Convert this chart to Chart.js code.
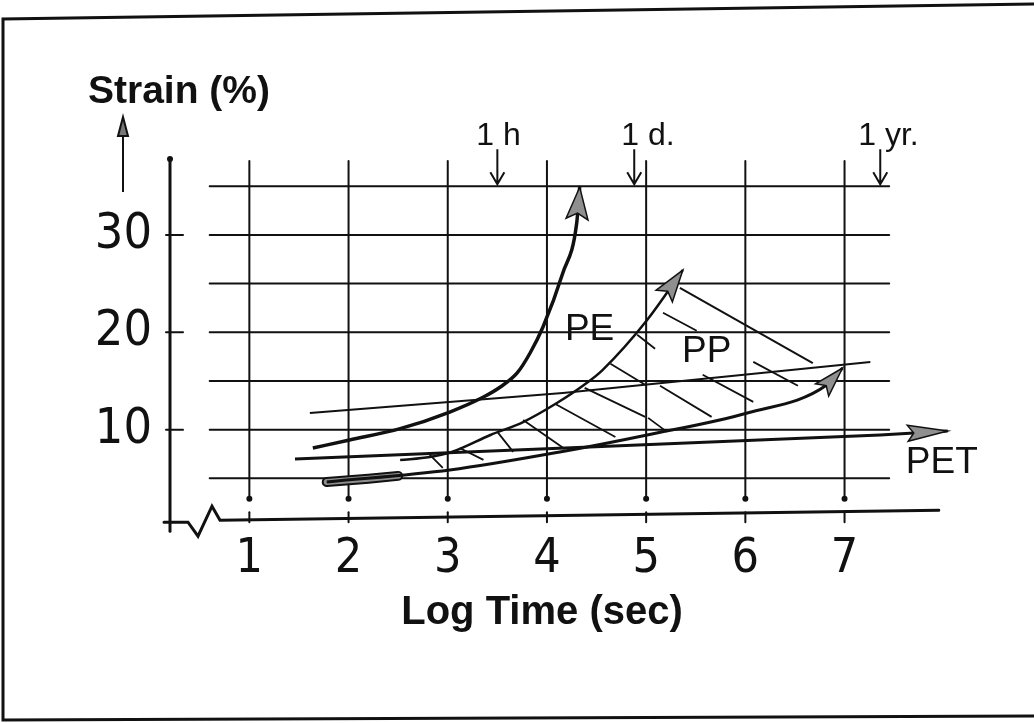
<!DOCTYPE html>
<html>
<head>
<meta charset="utf-8">
<title>Creep strain vs log time</title>
<script src="https://cdn.jsdelivr.net/npm/chart.js@4.4.1/dist/chart.umd.min.js"></script>
<style>
  html, body { margin: 0; padding: 0; background: #fff; }
  #wrap { width: 1034px; height: 723px; }
</style>
</head>
<body>
<div id="wrap"><canvas id="creepChart" width="1034" height="723"></canvas></div>
<script>
// axis ticks and grid
var xTicks = [1, 2, 3, 4, 5, 6, 7];
var yTicks = [10, 20, 30];
var yGrid = [5, 10, 15, 20, 25, 30, 35];

// PE curve (last point = arrow tip)
var peX = [1.64, 2.01, 2.52, 3.02, 3.36, 3.53, 3.70, 3.83, 3.96, 4.16, 4.30, 4.33];
var peY = [8.11, 8.94, 10.1, 11.81, 13.35, 14.38, 15.82, 17.87, 20.54, 26.09, 31.22, 34.9];

// PP upper bound
var ppUpX = [2.52, 2.82, 3.04, 3.43, 3.76, 4.10, 4.40, 4.56, 5.01, 5.37];
var ppUpY = [6.88, 7.19, 7.70, 9.45, 10.78, 12.73, 14.79, 16.12, 21.26, 26.39];

// PP lower bound
var ppLowX = [1.78, 3.02, 4.13, 5.01, 6.02, 6.82, 6.98];
var ppLowY = [4.62, 5.85, 7.70, 9.45, 11.71, 14.58, 16.33];

// PP shaded start
var tailX = [1.78, 2.2, 2.5];
var tailY = [4.62, 4.95, 5.25];

// PP other lines
var ppMidX = [1.61, 4.16, 7.26];
var ppMidY = [11.71, 13.76, 16.95];
var ppTopX = [5.34, 6.68];
var ppTopY = [24.55, 16.84];

// PET
var petX = [1.46, 4.43, 7.36, 8.04];
var petY = [6.98, 8.22, 9.45, 9.86];

// hatching strokes (start -> end)
var hatchX1 = [2.80, 3.12, 3.50, 3.76, 4.08, 4.38, 4.64, 4.91, 5.17, 5.14, 5.57, 6.08, 5.02];
var hatchY1 = [7.61, 8.12, 9.77, 11.00, 12.65, 14.29, 16.76, 19.74, 22.00, 14.50, 15.63, 16.96, 11.21];
var hatchX2 = [2.95, 3.36, 3.66, 4.18, 4.69, 4.99, 4.99, 5.09, 5.51, 5.66, 6.08, 6.53, 5.21];
var hatchY2 = [6.07, 6.89, 7.71, 8.02, 9.25, 11.31, 14.60, 18.30, 20.15, 11.31, 12.85, 14.50, 9.77];

// time marks on top
var markX = [3.5, 4.88, 7.36];
var markText = ['1 h', '1 d.', '1 yr.'];

// curve names
var nameText = ['PE', 'PP', 'PET'];
var nameX = [4.43, 5.61, 7.98];
var nameY = [20.27, 18.0, 6.58];

var axisY = 0.9;

var SANS = '"Liberation Sans", Arial, Helvetica, sans-serif';
var NARROW = '"Liberation Sans Narrow", "DejaVu Sans Condensed", sans-serif';
var INK = '#111';

function pts(xs, ys) {
  var out = [];
  for (var i = 0; i < xs.length; i++) out.push({ x: xs[i], y: ys[i] });
  return out;
}

var hatchData = [];
for (var i = 0; i < hatchX1.length; i++) {
  hatchData.push({ x: hatchX1[i], y: hatchY1[i] });
  hatchData.push({ x: hatchX2[i], y: hatchY2[i] });
  hatchData.push({ x: hatchX2[i], y: null });
}

function lineSet(label, data, width, extra) {
  var ds = {
    label: label, data: data, borderColor: INK, borderWidth: width,
    pointRadius: 0, fill: false, tension: 0, spanGaps: false
  };
  for (var k in extra) ds[k] = extra[k];
  return ds;
}

var sketch = {
  id: 'sketch',
  beforeDatasetsDraw: function(chart) {
    var ctx = chart.ctx, xs = chart.scales.x, ys = chart.scales.y;
    var left = chart.chartArea.left;
    ctx.save();
    ctx.strokeStyle = INK;
    ctx.fillStyle = INK;
    ctx.lineCap = 'round';
    ctx.lineWidth = 2;
    yGrid.forEach(function(v) {
      var py = ys.getPixelForValue(v);
      ctx.beginPath();
      ctx.moveTo(xs.getPixelForValue(0.6), py);
      ctx.lineTo(xs.getPixelForValue(7.45), py);
      ctx.stroke();
    });
    var ay = ys.getPixelForValue(axisY);
    xTicks.forEach(function(v) {
      var px = xs.getPixelForValue(v);
      var bot = ys.getPixelForValue(2.9);
      ctx.beginPath();
      ctx.moveTo(px, ys.getPixelForValue(37.6));
      ctx.lineTo(px, bot);
      ctx.stroke();
      ctx.beginPath();
      ctx.arc(px, bot, 3, 0, Math.PI * 2);
      ctx.fill();
      ctx.beginPath();
      ctx.moveTo(px, ay - 6);
      ctx.lineTo(px, ay + 4);
      ctx.stroke();
    });
    // y axis
    ctx.lineWidth = 3;
    ctx.beginPath();
    ctx.moveTo(left, ys.getPixelForValue(37.8));
    ctx.lineTo(left, ay + 13);
    ctx.stroke();
    ctx.beginPath();
    ctx.arc(left, ys.getPixelForValue(37.8), 3, 0, Math.PI * 2);
    ctx.fill();
    ctx.lineWidth = 2;
    yTicks.forEach(function(v) {
      var py = ys.getPixelForValue(v);
      ctx.beginPath();
      ctx.moveTo(left - 4, py);
      ctx.lineTo(left + 13, py);
      ctx.stroke();
    });
    // x axis with break
    ctx.lineWidth = 3;
    ctx.beginPath();
    ctx.moveTo(left - 6, ay + 4);
    ctx.lineTo(left + 18, ay + 4);
    ctx.lineTo(left + 28, ay + 18);
    ctx.lineTo(left + 42, ay - 12);
    ctx.lineTo(left + 50, ay + 2);
    ctx.lineTo(xs.getPixelForValue(7.95), ay - 8);
    ctx.stroke();
    ctx.restore();
  },
  afterDatasetsDraw: function(chart) {
    var ctx = chart.ctx;
    ctx.save();
    chart.data.datasets.forEach(function(ds, i) {
      if (!ds.arrowLen) return;
      var el = chart.getDatasetMeta(i).data;
      var tip = el[el.length - 1], prev = el[el.length - 2];
      var fx = (tip.cp1x !== undefined && !isNaN(tip.cp1x)) ? tip.cp1x : prev.x;
      var fy = (tip.cp1y !== undefined && !isNaN(tip.cp1y)) ? tip.cp1y : prev.y;
      var dx = tip.x - fx, dy = tip.y - fy, d = Math.sqrt(dx * dx + dy * dy) || 1;
      dx /= d; dy /= d;
      var bx = tip.x - dx * ds.arrowLen, by = tip.y - dy * ds.arrowLen;
      var nx = -dy * ds.arrowHalf, ny = dx * ds.arrowHalf;
      ctx.beginPath();
      ctx.moveTo(tip.x, tip.y);
      ctx.lineTo(bx + nx, by + ny);
      ctx.lineTo(bx + dx * 6, by + dy * 6);
      ctx.lineTo(bx - nx, by - ny);
      ctx.closePath();
      ctx.fillStyle = '#8f8f8f';
      ctx.fill();
      ctx.strokeStyle = INK;
      ctx.lineWidth = 1.5;
      ctx.stroke();
    });
    ctx.restore();
  },
  afterDraw: function(chart) {
    var ctx = chart.ctx, xs = chart.scales.x, ys = chart.scales.y;
    var left = chart.chartArea.left;
    ctx.save();
    ctx.fillStyle = INK;
    ctx.strokeStyle = INK;
    // curve names
    ctx.font = '37px ' + SANS;
    ctx.textAlign = 'center';
    ctx.textBaseline = 'middle';
    for (var i = 0; i < nameText.length; i++) {
      ctx.fillText(nameText[i], xs.getPixelForValue(nameX[i]), ys.getPixelForValue(nameY[i]));
    }
    // time marks
    ctx.font = '32px ' + SANS;
    ctx.textAlign = 'left';
    ctx.textBaseline = 'alphabetic';
    var offs = [-21, -13, -22];
    for (var j = 0; j < markX.length; j++) {
      var px = xs.getPixelForValue(markX[j]);
      var top = ys.getPixelForValue(38.8), bot = ys.getPixelForValue(35.2);
      ctx.fillText(markText[j], px + offs[j], top - 4);
      ctx.lineWidth = 2;
      ctx.beginPath();
      ctx.moveTo(px, top);
      ctx.lineTo(px, bot);
      ctx.moveTo(px - 7, bot - 12);
      ctx.lineTo(px, bot);
      ctx.lineTo(px + 7, bot - 12);
      ctx.stroke();
    }
    // axis titles
    ctx.font = 'bold 39px ' + SANS;
    ctx.fillText('Strain (%)', left - 82, 103);
    ctx.font = 'bold 40px ' + SANS;
    ctx.textAlign = 'center';
    ctx.textBaseline = 'middle';
    ctx.fillText('Log Time (sec)', left + 372, 613);
    // arrow under y title
    var ax = left - 47;
    ctx.lineWidth = 2;
    ctx.beginPath();
    ctx.moveTo(ax, 192);
    ctx.lineTo(ax, 130);
    ctx.stroke();
    ctx.beginPath();
    ctx.moveTo(ax, 117);
    ctx.lineTo(ax - 5, 136);
    ctx.lineTo(ax + 5, 136);
    ctx.closePath();
    ctx.fillStyle = '#777';
    ctx.fill();
    ctx.stroke();
    // frame
    ctx.lineWidth = 3;
    ctx.beginPath();
    ctx.moveTo(1034, 4);
    ctx.lineTo(3, 19);
    ctx.lineTo(3, 720);
    ctx.lineTo(1034, 716);
    ctx.stroke();
    ctx.restore();
  }
};

new Chart(document.getElementById('creepChart').getContext('2d'), {
  type: 'line',
  data: {
    datasets: [
      lineSet('PE', pts(peX, peY), 3.5, { cubicInterpolationMode: 'monotone', arrowLen: 32, arrowHalf: 11 }),
      lineSet('PP upper', pts(ppUpX, ppUpY), 2.5, { cubicInterpolationMode: 'monotone', arrowLen: 32, arrowHalf: 10 }),
      lineSet('PP lower', pts(ppLowX, ppLowY), 3, { cubicInterpolationMode: 'monotone', arrowLen: 30, arrowHalf: 9 }),
      lineSet('PET', pts(petX, petY), 3, { arrowLen: 40, arrowHalf: 8 }),
      lineSet('PP mid', pts(ppMidX, ppMidY), 2, {}),
      lineSet('PP top', pts(ppTopX, ppTopY), 2, {}),
      lineSet('hatch', hatchData, 1.8, {}),
      lineSet('PP tail', pts(tailX, tailY), 6, { borderColor: '#8f8f8f', borderCapStyle: 'round' }),
      lineSet('PP tail edge', pts(tailX, tailY), 10, { borderCapStyle: 'round' })
    ]
  },
  options: {
    responsive: false,
    animation: false,
    devicePixelRatio: 1,
    events: [],
    layout: { autoPadding: false, padding: { left: 0, right: 60.5, top: 157, bottom: 0 } },
    plugins: { legend: { display: false }, tooltip: { enabled: false } },
    scales: {
      x: {
        type: 'linear', min: 0.2, max: 8.3,
        afterBuildTicks: function(s) { s.ticks = xTicks.map(function(v) { return { value: v }; }); },
        afterFit: function(s) { s.height = 196; },
        grid: { display: false, drawTicks: false },
        border: { display: false },
        ticks: { color: INK, padding: 4, maxRotation: 0, autoSkip: false,
                 font: { family: NARROW, size: 48 } }
      },
      y: {
        type: 'linear', min: 0, max: 38,
        afterBuildTicks: function(s) { s.ticks = yTicks.map(function(v) { return { value: v }; }); },
        afterFit: function(s) { s.width = 170; },
        grid: { display: false, drawTicks: false },
        border: { display: false },
        ticks: { color: INK, padding: 18, font: { family: NARROW, size: 50 } }
      }
    }
  },
  plugins: [sketch]
});
</script>
</body>
</html>
